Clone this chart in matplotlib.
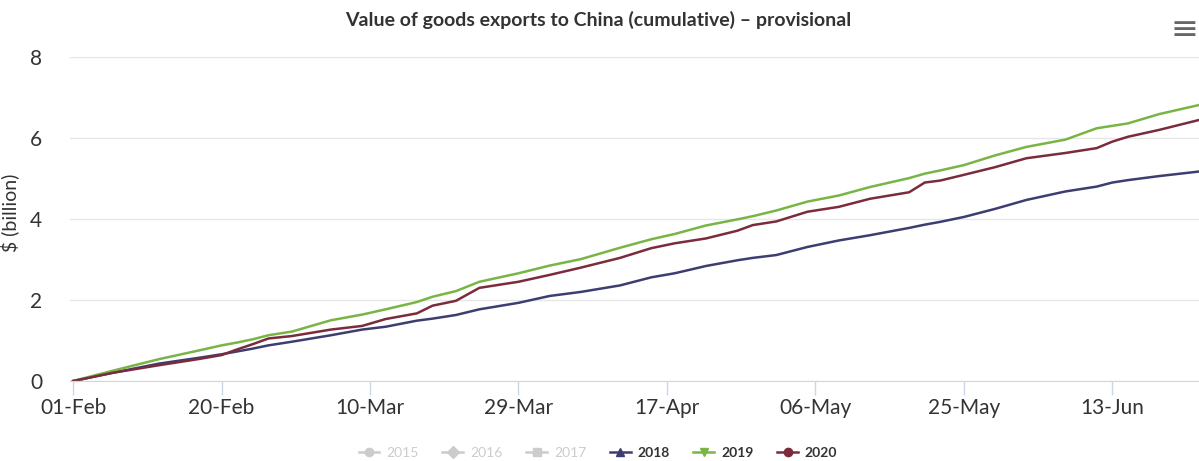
import pandas as pd
import numpy as np
import matplotlib
matplotlib.use('Agg')
import matplotlib.pyplot as plt
import matplotlib.dates as mdates
from matplotlib.lines import Line2D

plt.rcParams['font.family'] = ['Lato', 'DejaVu Sans']

# Days since 01-Feb (sampled read-offs of the cumulative curves)
days = [0, 5, 11, 16, 19, 21, 23, 25, 28, 33, 37, 40, 44, 46, 49, 52, 57, 61, 65,
        70, 74, 77, 81, 85, 87, 90, 94, 98, 102, 107, 109, 111, 114, 118, 122,
        127, 131, 133, 135, 139, 144]

# $ billion, cumulative
exports_2018 = [0, 0.20, 0.43, 0.57, 0.66, 0.73, 0.80, 0.88, 0.97, 1.13, 1.27, 1.34,
                1.49, 1.54, 1.63, 1.77, 1.93, 2.10, 2.20, 2.36, 2.56, 2.66, 2.84,
                2.98, 3.04, 3.11, 3.31, 3.47, 3.60, 3.78, 3.86, 3.93, 4.05, 4.25,
                4.47, 4.68, 4.80, 4.90, 4.96, 5.06, 5.17]
exports_2019 = [0, 0.25, 0.54, 0.75, 0.88, 0.95, 1.03, 1.13, 1.22, 1.50, 1.64, 1.77,
                1.95, 2.08, 2.22, 2.45, 2.66, 2.85, 3.01, 3.29, 3.50, 3.63, 3.84,
                3.99, 4.07, 4.21, 4.43, 4.58, 4.79, 5.01, 5.12, 5.20, 5.33, 5.57,
                5.78, 5.96, 6.24, 6.30, 6.36, 6.59, 6.81]
exports_2020 = [0, 0.20, 0.39, 0.54, 0.64, 0.78, 0.91, 1.05, 1.11, 1.27, 1.36, 1.53,
                1.67, 1.86, 1.98, 2.30, 2.45, 2.62, 2.80, 3.04, 3.28, 3.40, 3.52,
                3.71, 3.85, 3.94, 4.18, 4.30, 4.50, 4.66, 4.90, 4.95, 5.09, 5.28,
                5.50, 5.63, 5.75, 5.91, 6.03, 6.20, 6.44]

years = ['2015', '2016', '2017', '2018', '2019', '2020']
markers = ['o', 'D', 's', '^', 'v', 'o']
colors = ['#cccccc', '#cccccc', '#cccccc', '#3d3d72', '#78b545', '#7a2c3c']
hidden = [True, True, True, False, False, False]

dates = pd.Timestamp('2020-02-01') + pd.to_timedelta(days, unit='D')

fig = plt.figure(figsize=(11.99, 4.61), dpi=100)
ax = fig.add_axes([70 / 1199, 1 - 381 / 461, 1 - 70 / 1199, (381 - 57) / 461])

ax.plot(dates, exports_2018, color=colors[3], lw=1.8)
ax.plot(dates, exports_2019, color=colors[4], lw=1.8)
ax.plot(dates, exports_2020, color=colors[5], lw=1.8)

start = pd.Timestamp('2020-02-01')
ax.set_xlim(start - pd.Timedelta(days=0.4), start + pd.Timedelta(days=144.1))
ax.set_ylim(0, 8)
ax.set_yticks([0, 2, 4, 6, 8])
ax.set_xticks(pd.date_range(start, periods=8, freq='19D'))
ax.xaxis.set_major_formatter(mdates.DateFormatter('%d-%b'))

ax.grid(axis='y', color='#e6e6e6', lw=1)
ax.set_axisbelow(True)
for s in ['top', 'right', 'left']:
    ax.spines[s].set_visible(False)
ax.spines['bottom'].set_color('#ccd6eb')
ax.tick_params(axis='x', colors='#ccd6eb', length=10, width=1, labelcolor='#333333',
               labelsize=15, pad=2)
ax.tick_params(axis='y', length=0, labelcolor='#333333', labelsize=15, pad=20)

fig.text(598 / 1199, 1 - 20 / 461, 'Value of goods exports to China (cumulative) \u2013 provisional',
         ha='center', va='center', fontsize=14, fontweight='bold', color='#333333')
fig.text(10 / 1199, 1 - 213 / 461, '$ (billion)', rotation=90, ha='center', va='center',
         fontsize=14, color='#333333')
fig.text(1199 / 1199, 1 - 29 / 461, '\u2261', ha='right', va='center', fontsize=24,
         color='#666666', family='DejaVu Sans')

handles = [Line2D([], [], color=c, marker=m, markersize=6, lw=1.8)
           for c, m in zip(colors, markers)]
leg = fig.legend(handles, years, loc='center', bbox_to_anchor=(598 / 1199, 1 - 453 / 461),
                 ncol=6, frameon=False, fontsize=10, handlelength=1.5, columnspacing=1.7,
                 handletextpad=0.5)
for txt, h in zip(leg.get_texts(), hidden):
    txt.set_color('#cccccc' if h else '#333333')
    if not h:
        txt.set_fontweight('bold')

fig.savefig('out.png', dpi=100)
